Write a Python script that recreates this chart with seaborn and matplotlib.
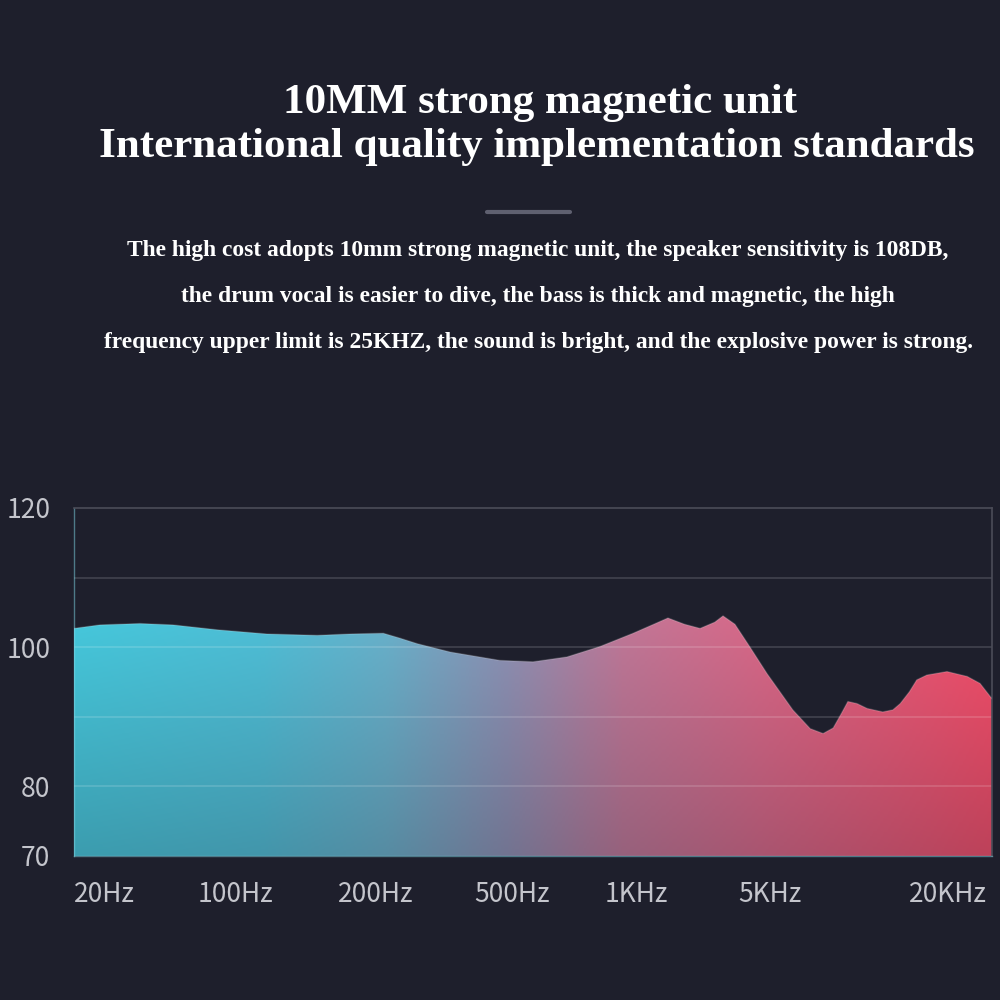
import numpy as np
import pandas as pd
import matplotlib
matplotlib.use('Agg')
import matplotlib.pyplot as plt
import seaborn as sns
from matplotlib.colors import LinearSegmentedColormap, to_rgb
from matplotlib.patches import Polygon

# frequency response (x = position along the axis, 0-100)
pos = [0, 2.8, 7.2, 10.8, 15.6, 21.0, 26.5, 30.1, 33.7, 35.5, 37.4, 41.0, 46.4,
       50.0, 53.7, 57.3, 60.9, 63.5, 64.7, 66.5, 68.2, 69.8, 70.7, 72.0, 73.6, 75.5,
       78.3, 80.2, 81.6, 82.7, 83.6, 84.3, 85.3, 86.4, 88.1, 89.2, 90.0, 91.0, 91.8,
       92.9, 95.1, 97.3, 98.7, 100]
db = [102.7, 103.2, 103.4, 103.2, 102.5, 101.9, 101.7, 101.9, 102.0, 101.3, 100.5,
      99.3, 98.1, 97.9, 98.6, 100.1, 102.0, 103.5, 104.2, 103.3, 102.7, 103.6, 104.5,
      103.3, 100.1, 96.2, 91.0, 88.3, 87.6, 88.4, 90.5, 92.2, 91.9, 91.2, 90.7, 91.0,
      91.9, 93.6, 95.3, 96.0, 96.5, 95.8, 94.8, 92.6]

tick_pos = [3.3, 17.6, 32.9, 47.7, 61.3, 75.8, 95.2]
tick_labels = ['20Hz', '100Hz', '200Hz', '500Hz', '1KHz', '5KHz', '20KHz']
y_ticks = [70, 80, 100, 120]
grid_y = [80, 90, 100, 110]

title_lines = ['10MM strong magnetic unit',
               'International quality implementation standards']
body_lines = ['The high cost adopts 10mm strong magnetic unit, the speaker sensitivity is 108DB,',
              'the drum vocal is easier to dive, the bass is thick and magnetic, the high',
              'frequency upper limit is 25KHZ, the sound is bright, and the explosive power is strong.']

bg = '#1e1f2c'
df = pd.DataFrame({'pos': pos, 'db': db})

sns.set_theme(style='white')
plt.rcParams['font.family'] = ['Noto Sans CJK SC', 'DejaVu Sans']

fig = plt.figure(figsize=(10, 10), dpi=100, facecolor=bg)
ax = fig.add_axes([0.074, 0.144, 0.918, 0.348])
ax.set_facecolor(bg)

# gradient image: horizontal colour ramp, darker towards the bottom
cmap = LinearSegmentedColormap.from_list('fr', [
    (0.0, '#46c9dd'), (0.2, '#4fc0d8'), (0.34, '#6ab2cc'), (0.47, '#8f92b5'),
    (0.6, '#c27898'), (0.75, '#da6888'), (1.0, '#f54e6a')])
nx, ny = 600, 300
xs = np.linspace(0, 1, nx)
ys = np.linspace(120, 70, ny)
top = cmap(xs)[:, :3]
t = np.clip((105 - ys) / 35, 0, 1) * 0.26
bgc = np.array(to_rgb(bg))
img = top[None, :, :] * (1 - t[:, None, None]) + bgc[None, None, :] * t[:, None, None]
im = ax.imshow(img, extent=[0, 100, 70, 120], aspect='auto', zorder=1,
               interpolation='bilinear')
verts = [(0, 70)] + list(zip(pos, db)) + [(100, 70)]
clip = Polygon(verts, closed=True, transform=ax.transData, facecolor='none',
               edgecolor='none')
ax.add_patch(clip)
im.set_clip_path(clip)

sns.lineplot(data=df, x='pos', y='db', ax=ax, color='white', alpha=0.18,
             lw=1.0, zorder=3)

for g in grid_y:
    ax.axhline(g, color='white', alpha=0.16, lw=1.2, zorder=2)

ax.set_xlim(0, 100)
ax.set_ylim(70, 120)
ax.set_xticks(tick_pos)
ax.set_xticklabels(tick_labels)
ax.set_yticks(y_ticks)
ax.set_yticklabels([str(v) for v in y_ticks])
ax.tick_params(axis='both', length=0, labelsize=19, colors='#c4c5cc')
ax.tick_params(axis='y', pad=17)
ax.tick_params(axis='x', pad=18)
ax.set_xlabel('')
ax.set_ylabel('')
for side in ['top', 'right']:
    ax.spines[side].set_color('#4b4c58')
    ax.spines[side].set_linewidth(1.2)
for side in ['left', 'bottom']:
    ax.spines[side].set_color('#7fd6e4')
    ax.spines[side].set_alpha(0.5)
    ax.spines[side].set_linewidth(1.0)

serif = ['Liberation Serif', 'DejaVu Serif']
fig.text(0.54, 1 - 0.113, title_lines[0], ha='center', va='baseline',
         fontsize=31, color='white', family=serif, fontweight='bold')
fig.text(0.537, 1 - 0.157, title_lines[1], ha='center', va='baseline',
         fontsize=31, color='white', family=serif, fontweight='bold')

fig.add_artist(plt.Line2D([0.487, 0.570], [1 - 0.212, 1 - 0.212], color='#5f6070',
                          lw=3, transform=fig.transFigure))

for yb, line in zip([0.256, 0.302, 0.348], body_lines):
    fig.text(0.538, 1 - yb, line, ha='center', va='baseline', fontsize=16.9,
             color='white', family=serif, fontweight='bold')

fig.savefig('out.png', dpi=100, facecolor=bg)
